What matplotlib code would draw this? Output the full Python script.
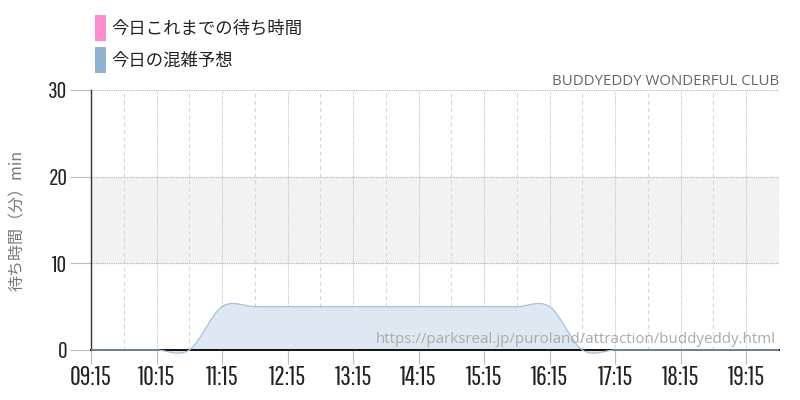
import matplotlib
matplotlib.use("Agg")
import numpy as np
import matplotlib.pyplot as plt
from matplotlib.path import Path
from matplotlib.patches import PathPatch, Rectangle

plt.rcParams['font.family'] = ['Noto Sans CJK JP', 'DejaVu Sans']

# forecast (today's crowd prediction), every 30 minutes
times = ['09:15', '09:45', '10:15', '10:45', '11:15', '11:45', '12:15', '12:45',
         '13:15', '13:45', '14:15', '14:45', '15:15', '15:45', '16:15', '16:45',
         '17:15', '17:45', '18:15', '18:45', '19:15', '19:45']
forecast = [0, 0, 0, 0, 5, 5, 5, 5, 5, 5, 5, 5, 5, 5, 5, 0, 0, 0, 0, 0, 0, 0]
tick_labels = ['09:15', '10:15', '11:15', '12:15', '13:15', '14:15', '15:15',
               '16:15', '17:15', '18:15', '19:15']
legend_labels = ['今日これまでの待ち時間', '今日の混雑予想']
legend_colors = ['#ff8ccc', '#8fb2d0']


def to_hours(t):
    h, m = t.split(':')
    return int(h) + int(m) / 60


def smooth_path(x, y, close=False):
    # catmull-rom style bezier segments, drawn by matplotlib's own curve4
    x = np.asarray(x, float)
    y = np.asarray(y, float)
    verts = [(x[0], y[0])]
    codes = [Path.MOVETO]
    n = len(x)
    for i in range(n - 1):
        p0 = i - 1 if i > 0 else i
        p3 = i + 2 if i + 2 < n else i + 1
        c1 = (x[i] + (x[i + 1] - x[p0]) / 6, y[i] + (y[i + 1] - y[p0]) / 6)
        c2 = (x[i + 1] - (x[p3] - x[i]) / 6, y[i + 1] - (y[p3] - y[i]) / 6)
        verts += [c1, c2, (x[i + 1], y[i + 1])]
        codes += [Path.CURVE4] * 3
    if close:
        verts += [(x[-1], 0), (x[0], 0), (x[0], y[0])]
        codes += [Path.LINETO, Path.LINETO, Path.CLOSEPOLY]
    return Path(verts, codes)


xs = [to_hours(t) for t in times]
ticks = [to_hours(t) for t in tick_labels]
half = [t + 0.5 for t in ticks]

fig = plt.figure(figsize=(8, 4), dpi=100)
ax = fig.add_axes([91 / 800, 50 / 400, 688 / 800, 260 / 400])

ax.set_xlim(xs[0], xs[-1])
ax.set_ylim(0, 30)

ax.axhspan(10, 20, color='#f2f2f2', zorder=0)
for v in [10, 20, 30]:
    ax.axhline(v, color='#b5b5b5', lw=0.8, ls=(0, (1, 1)), zorder=1)
for t in ticks[1:]:
    ax.axvline(t, color='#c4c4c4', lw=0.8, ls=(0, (1, 1)), zorder=1)
for t in half[:-1]:
    ax.axvline(t, color='#d6d6d6', lw=0.8, ls=(0, (3.5, 3)), zorder=1)
ax.axvline(xs[-1], color='#c4c4c4', lw=0.8, ls=(0, (1, 1)), zorder=1)

ax.add_patch(PathPatch(smooth_path(xs, forecast, close=True), facecolor='#dee8f2',
                       edgecolor='none', zorder=2, clip_on=False))
ax.add_patch(PathPatch(smooth_path(xs, forecast), facecolor='none',
                       edgecolor='#a6c1d9', lw=0.9, zorder=5, clip_on=False))

for s in ['top', 'right']:
    ax.spines[s].set_visible(False)
ax.spines['left'].set_color('#333333')
ax.spines['left'].set_linewidth(1.0)
ax.spines['bottom'].set_color('#111111')
ax.spines['bottom'].set_linewidth(1.4)
ax.spines['bottom'].set_zorder(4)

ax.set_xticks(ticks)
ax.set_xticklabels(tick_labels, family='Pathway Gothic One', fontsize=19, color='#222222')
ax.set_yticks([0, 10, 20, 30])
ax.set_yticklabels(['0', '10', '20', '30'], family='Pathway Gothic One', fontsize=17, color='#222222')
ax.tick_params(axis='x', length=10, color='#bbbbbb', width=0.8, pad=1)
ax.tick_params(axis='y', length=15, color='#bbbbbb', width=0.8, pad=2)

ax.set_ylabel('待ち時間（分）min', color='#777777', fontsize=11.5, labelpad=16)

fig.text(779 / 800, 1 - 85 / 400, 'BUDDYEDDY WONDERFUL CLUB', ha='right', va='baseline',
         family=['Open Sans', 'DejaVu Sans'], fontsize=10.8, color='#666666')
ax.text(0.995, 0.026, 'https://parksreal.jp/puroland/attraction/buddyeddy.html',
        transform=ax.transAxes, ha='right', va='baseline',
        family=['Open Sans', 'DejaVu Sans'], fontsize=10.9, color='#aaaaaa', zorder=6)

for i, (lab, col) in enumerate(zip(legend_labels, legend_colors)):
    top = 15 + i * 32
    fig.patches.append(Rectangle((95 / 800, 1 - (top + 26) / 400), 11 / 800, 26 / 400,
                                 transform=fig.transFigure, facecolor=col, edgecolor='none'))
    fig.text(111 / 800, 1 - (top + 14) / 400, lab, ha='left', va='center',
             fontsize=12.5, color='#222222')

fig.savefig('out.png')
